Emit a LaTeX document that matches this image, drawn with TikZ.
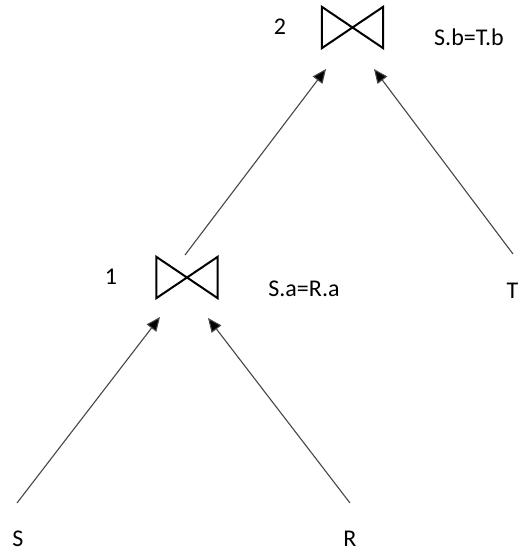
\documentclass[tikz,border=0pt]{standalone}
\usepackage{fontspec}
\setmainfont{Carlito}
\usetikzlibrary{arrows.meta}
\begin{document}
\begin{tikzpicture}[x=1pt,y=-1pt,
  lbl/.style={inner sep=0pt,anchor=base,font=\fontsize{24}{28}\selectfont},
  joinbox/.style={draw=none,inner sep=0pt,minimum width=61pt,minimum height=41pt},
  tie/.style={line width=2pt,black,line join=miter},
  arr/.style={line width=1.1pt,draw={rgb,255:red,70;green,70;blue,70},-{Triangle[length=14pt,width=12pt,fill=black]}}]
\useasboundingbox (0,0) rectangle (520,553);
% join nodes
\node[joinbox] (j2) at (352.5,27.5) {};
\node[joinbox] (j1) at (187,277.5) {};
\draw[tie] (j2.north west) -- (j2.south east) -- (j2.north east) -- (j2.south west) -- cycle;
\draw[tie] (j1.north west) -- (j1.south east) -- (j1.north east) -- (j1.south west) -- cycle;
% labels
\node[lbl] (n2) at (280,35) {2};
\node[lbl] (c2) at (469,46) {S.b=T.b};
\node[lbl] (n1) at (111,284) {1};
\node[lbl] (c1) at (304,296) {S.a=R.a};
\node[lbl] (S) at (18,546) {S};
\node[lbl] (R) at (350,546) {R};
\node[lbl] (T) at (512.5,298) {T};
% connector ends
\coordinate (sfoot) at (17,503);
\coordinate (rfoot) at (350,503);
\coordinate (tfoot) at (513,254);
\coordinate (j1top) at (185,255);
\coordinate (j1inL) at (160,317);
\coordinate (j1inR) at (208,318);
\coordinate (j2inL) at (326,69);
\coordinate (j2inR) at (374,69);
\draw[arr] (sfoot) -- (j1inL);
\draw[arr] (rfoot) -- (j1inR);
\draw[arr] (j1top) -- (j2inL);
\draw[arr] (tfoot) -- (j2inR);
\end{tikzpicture}
\end{document}
